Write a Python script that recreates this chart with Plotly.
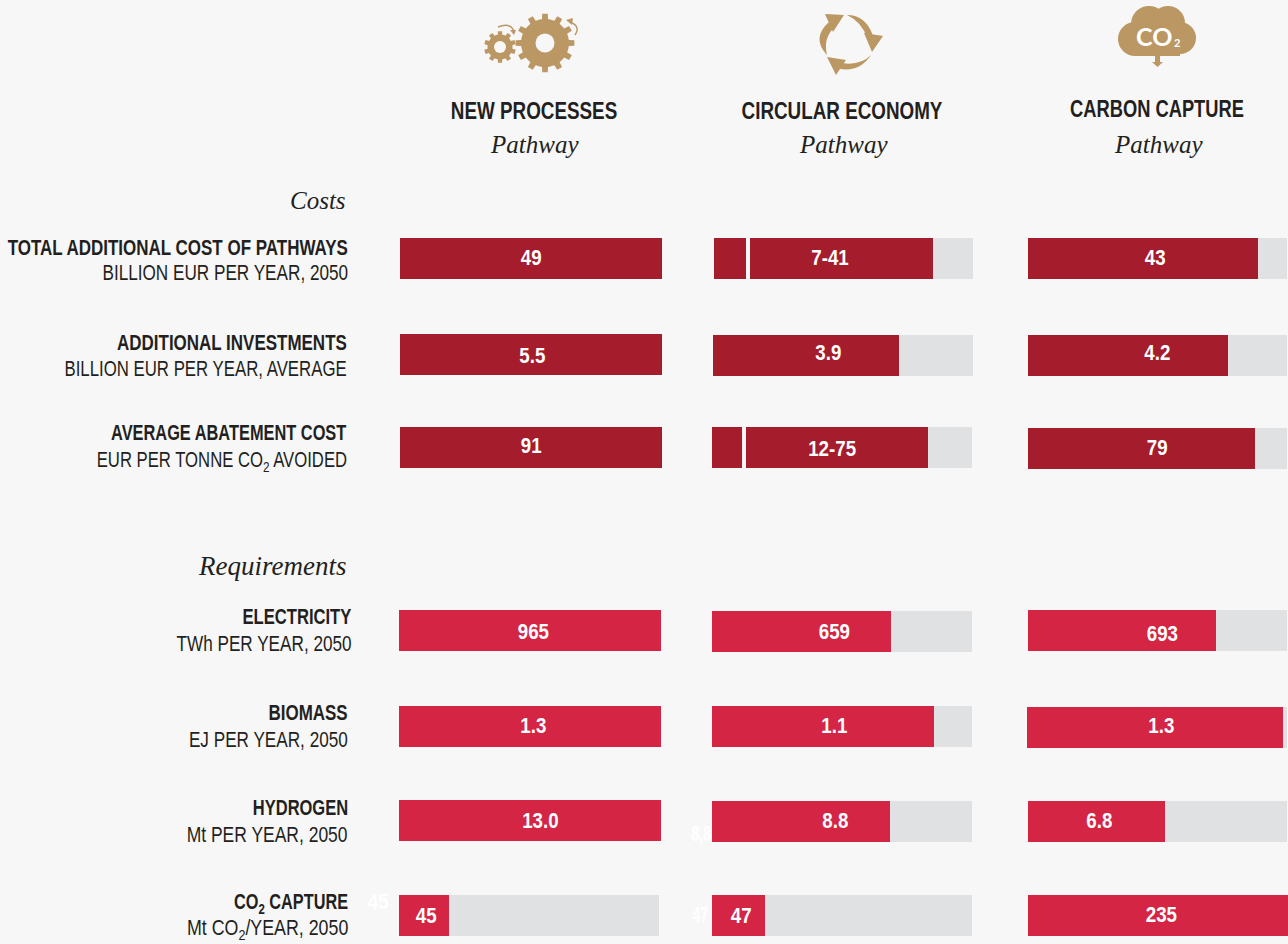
import json
import math
import plotly.graph_objects as go

W, H = 1288, 944
BG, DARK, BRIGHT, TRACK, TAN, INK = "#F7F7F7", "#A51C2D", "#D42544", "#E0E1E3", "#BA9763", "#231F20"
SANS, SERIF = "Liberation Sans", "Liberation Serif"

pathways = ["NEW PROCESSES", "CIRCULAR ECONOMY", "CARBON CAPTURE"]
row_titles = ["TOTAL ADDITIONAL COST OF PATHWAYS", "ADDITIONAL INVESTMENTS", "AVERAGE ABATEMENT COST",
              "ELECTRICITY", "BIOMASS", "HYDROGEN", "CO<sub>2</sub> CAPTURE"]
row_units = ["BILLION EUR PER YEAR, 2050", "BILLION EUR PER YEAR, AVERAGE", "EUR PER TONNE CO<sub>2</sub> AVOIDED",
             "TWh PER YEAR, 2050", "EJ PER YEAR, 2050", "Mt PER YEAR, 2050", "Mt CO<sub>2</sub>/YEAR, 2050"]
row_max = [49, 5.5, 91, 965, 1.3, 13.0, 235]
new_processes = [49, 5.5, 91, 965, 1.3, 13.0, 45]
circular_economy = [41, 3.9, 75, 659, 1.1, 8.8, 47]
carbon_capture = [43, 4.2, 79, 693, 1.3, 6.8, 235]
values = [new_processes, circular_economy, carbon_capture]
labels = [["49", "5.5", "91", "965", "1.3", "13.0", "45"],
          ["7-41", "3.9", "12-75", "659", "1.1", "8.8", "47"],
          ["43", "4.2", "79", "693", "1.3", "6.8", "235"]]
range_low = {(1, 0): 6.37, (1, 2): 11.1}

# layout tables (pixels)
cell_x = [[(400, 662)] * 3 + [(399, 661)] * 3 + [(399, 659)],
          [(714, 973), (713, 973), (712, 972), (712, 972), (712, 972), (712, 972), (712, 972)],
          [(1028, 1287)] * 4 + [(1027, 1287), (1028, 1287), (1028, 1288)]]
cell_top = [[238, 334, 427, 610, 706, 800, 895],
            [238, 335, 427, 611, 706, 801, 895],
            [238, 335, 428, 610, 707, 801, 895]]
BAR_H = 41
label_x = [[531, 532, 531, 533, 533, 540, 426],
           [830, 828, 832, 834, 834, 836, 741],
           [1155, 1157, 1157, 1162, 1161, 1099, 1161]]
label_y = [[257, 355, 446, 631, 725, 820, 915],
           [257, 353, 448, 631, 725, 820, 915],
           [257, 353, 447, 633, 725, 820, 914]]
row_right = [348, 347, 347, 352, 348, 348, 348]
title_y = [247, 342, 433, 616, 712, 807, 903]
unit_y = [273, 368, 461, 643, 739, 834, 929]
head_x = [534, 842, 1157]
head_y = [110, 111, 109]
path_x = [534, 843, 1158]
path_y = [145, 145, 144]
# horizontal narrowing per text, to reach the condensed widths of the source face
title_sx = [0.772, 0.772, 0.745, 0.755, 0.772, 0.75, 0.74]
unit_sx = [0.78, 0.764, 0.759, 0.78, 0.78, 0.795, 0.81]
head_sx = [0.785, 0.785, 0.763]
VALUE_SX = 0.85


def px(x):
    return x / W


def py(y):
    return 1 - y / H


def poly(pts):
    return "M " + " L ".join(f"{px(x):.5f} {py(y):.5f}" for x, y in pts) + " Z"


def curve(*parts):
    return " ".join(p if isinstance(p, str) else f"{px(p[0]):.5f} {py(p[1]):.5f}" for p in parts)


def fill_path(d):
    return dict(type="path", xref="paper", yref="paper", path=d, fillcolor=TAN, line=dict(width=0), layer="above")


def stroke_path(d, w=1.4):
    return dict(type="path", xref="paper", yref="paper", path=d, line=dict(color=TAN, width=w), layer="above")


def disc(cx, cy, r, color=TAN):
    return dict(type="circle", xref="paper", yref="paper", x0=px(cx - r), x1=px(cx + r), y0=py(cy + r), y1=py(cy - r),
                fillcolor=color, line=dict(width=0), layer="above")


def gear(cx, cy, body, outer, teeth, tooth_frac=0.42):
    pts = []
    step = 2 * math.pi / teeth
    for i in range(teeth):
        a = i * step - math.pi / 2
        half = step * tooth_frac / 2
        for da, r in [(-half * 1.15, body), (-half * 0.85, outer), (half * 0.85, outer), (half * 1.15, body)]:
            pts.append((cx + r * math.cos(a + da), cy + r * math.sin(a + da)))
        for f in (0.33, 0.5, 0.67):
            b = a + step * f
            pts.append((cx + body * math.cos(b), cy + body * math.sin(b)))
    return poly(pts)


shapes, annotations, traces, axes, squeeze = [], [], [], {}, []


def text(x, y, s, size, color=INK, bold=False, italic=False, family=SANS, anchor="center", sx=1.0):
    s2 = f"<b>{s}</b>" if bold else s
    s2 = f"<i>{s2}</i>" if italic else s2
    annotations.append(dict(x=px(x + (2 if anchor == "right" else 0)), y=py(y), xref="paper", yref="paper", text=s2,
                            showarrow=False, xanchor=anchor, yanchor="middle",
                            font=dict(family=family, size=size, color=color), align=anchor))
    squeeze.append([sx, anchor])


n = 0
for c in range(3):
    for r in range(7):
        n += 1
        x0, x1 = cell_x[c][r]
        top = cell_top[c][r]
        scale_max = 1.32 if (c, r) == (2, 4) else row_max[r] * (0.99 if c > 0 or r == 6 else 1)
        axes[f"xaxis{n}"] = dict(domain=[px(x0), px(x1)], range=[0, scale_max], visible=False, fixedrange=True,
                                 anchor=f"y{n}")
        axes[f"yaxis{n}"] = dict(domain=[py(top + BAR_H), py(top)], range=[-0.5, 0.5], visible=False, fixedrange=True,
                                 anchor=f"x{n}")
        color = DARK if r < 3 else BRIGHT
        for v, col in ((scale_max, TRACK), (values[c][r], color)):
            traces.append(go.Bar(x=[v], y=[0], orientation="h", width=1, marker=dict(color=col, line=dict(width=0)),
                                 xaxis=f"x{n}", yaxis=f"y{n}", hoverinfo="skip", showlegend=False))
        if (c, r) in range_low:
            shapes.append(dict(type="line", xref=f"x{n}", yref=f"y{n} domain", x0=range_low[(c, r)], x1=range_low[(c, r)],
                               y0=0, y1=1, line=dict(color=BG, width=4), layer="above"))
        text(label_x[c][r], label_y[c][r], labels[c][r], 22, "white", bold=True, sx=VALUE_SX)

for c in range(3):
    text(head_x[c], head_y[c], pathways[c], 24, bold=True, sx=head_sx[c])
    text(path_x[c], path_y[c], "Pathway", 25, italic=True, family=SERIF)
text(346, 200, "Costs", 25, italic=True, family=SERIF, anchor="right")
text(346, 566, "Requirements", 27, italic=True, family=SERIF, anchor="right")
for r in range(7):
    text(row_right[r], title_y[r], row_titles[r], 22, bold=True, anchor="right", sx=title_sx[r])
    text(row_right[r], unit_y[r], row_units[r], 22, anchor="right", sx=unit_sx[r])

# faint white labels left beside the bars in the source
text(378, 901, "45", 22, "white", bold=True, sx=0.85)
text(699.5, 914, "47", 22, "white", bold=True, sx=0.64)
text(701, 833, "8,8", 22, "white", bold=True, sx=0.64)

# gears icon
shapes += [fill_path(gear(545, 43, 24, 29.5, 12)), disc(545, 43, 9.5, BG),
           fill_path(gear(500, 47, 12.5, 16, 10, 0.5)), disc(500, 47, 6, BG),
           stroke_path(curve("M", (498, 27), "Q", (510, 22), (514, 31))),
           fill_path(poly([(510, 30), (516, 30), (514, 35)])),
           stroke_path(curve("M", (575, 35), "Q", (581, 26), (570, 22))),
           fill_path(poly([(566, 20), (573, 18), (572, 25)]))]
# circular arrows icon
shapes += [fill_path(poly([(825, 14), (844, 15), (833, 32)])),
           fill_path(curve("M", (827, 55), "Q", (811, 38), (829, 22), "L", (834, 28), "Q", (823, 38), (827, 55), "Z")),
           fill_path(poly([(864, 33), (883, 36), (872, 52)])),
           fill_path(curve("M", (847, 15), "Q", (866, 15), (873, 36), "L", (867, 38), "Q", (862, 22), (847, 15), "Z")),
           fill_path(poly([(827, 57), (846, 60), (836, 75)])),
           fill_path(curve("M", (871, 55), "Q", (860, 72), (840, 69), "L", (842, 63), "Q", (860, 66), (871, 55), "Z"))]
# cloud icon
shapes += [disc(1149, 24, 18), disc(1168, 23, 17), disc(1135, 39, 17), disc(1180, 38, 16),
           dict(type="rect", xref="paper", yref="paper", x0=px(1135), x1=px(1180), y0=py(56), y1=py(30),
                fillcolor=TAN, line=dict(width=0), layer="above"),
           fill_path(poly([(1155, 56), (1160, 56), (1160, 62), (1163, 62), (1157.5, 67), (1152, 62), (1155, 62)]))]
text(1154, 36, "CO", 25, "white", bold=True, family="Lato")
text(1176.5, 42.5, "2", 11, "white", bold=True, family="Lato")

fig = go.Figure(traces)
fig.update_layout(width=W, height=H, margin=dict(l=0, r=0, t=0, b=0), paper_bgcolor=BG, plot_bgcolor=BG,
                  barmode="overlay", bargap=0, showlegend=False, shapes=shapes, annotations=annotations, **axes)

# the source face is a condensed grotesque: narrow Liberation Sans horizontally, around each label's anchor
squeeze_js = """
document.body.style.margin='0';document.body.style.overflow='hidden';
var S=%s;
document.querySelectorAll('.annotation').forEach(function(g){
  var i=+g.getAttribute('data-index'),s=S[i];if(!s||s[0]===1)return;
  var t=g.querySelector('text');var b=t.getBBox();
  var p=s[1]==='right'?b.x+b.width:b.x+b.width/2;
  var old=t.getAttribute('transform')||'';
  t.setAttribute('transform','translate('+p+',0) scale('+s[0]+',1) translate('+(-p)+',0) '+old);
});
""" % json.dumps(squeeze)
fig.write_html("out.html", config={"displayModeBar": False}, post_script=squeeze_js)
